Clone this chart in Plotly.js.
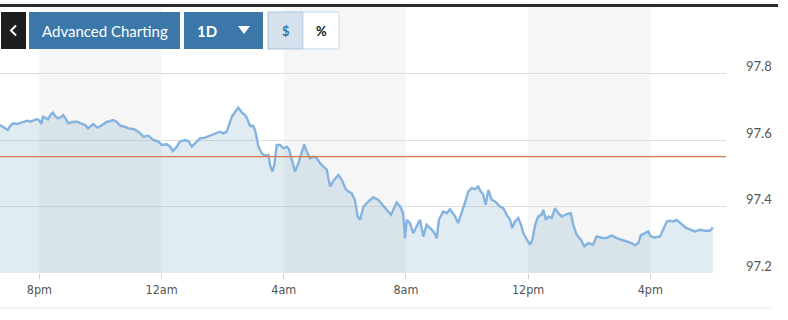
<!DOCTYPE html>
<html>
<head>
<meta charset="utf-8">
<script src="https://cdn.plot.ly/plotly-3.0.1.min.js"></script>
<style>html,body{margin:0;padding:0;background:#fff;}#chart{width:788px;height:320px;}</style>
</head>
<body>
<div id="chart"></div>
<script>
// time in hours (20 = 8pm, 24 = 12am, ... 40 = 4pm next day)
const times = [18.71,18.81,18.88,18.97,19.04,19.14,19.27,19.37,19.50,19.60,19.70,19.79,19.92,20.02,20.06,20.12,20.22,20.28,20.38,20.45,20.51,20.61,20.71,20.78,20.87,20.94,21.07,21.23,21.36,21.50,21.59,21.69,21.76,21.86,21.92,22.05,22.22,22.31,22.41,22.54,22.64,22.80,22.91,23.08,23.24,23.40,23.57,23.73,23.89,24.01,24.17,24.28,24.37,24.50,24.60,24.77,24.88,24.99,25.10,25.26,25.42,25.59,25.75,25.91,26.02,26.13,26.19,26.30,26.41,26.51,26.62,26.73,26.79,26.90,27.00,27.06,27.12,27.17,27.28,27.39,27.50,27.55,27.63,27.69,27.77,27.88,27.99,28.10,28.17,28.26,28.37,28.48,28.59,28.67,28.75,28.86,28.97,29.08,29.19,29.30,29.41,29.46,29.52,29.62,29.79,29.90,30.01,30.11,30.22,30.33,30.42,30.50,30.61,30.77,30.93,31.10,31.26,31.37,31.51,31.70,31.81,31.91,31.97,32.03,32.13,32.24,32.35,32.46,32.57,32.68,32.79,32.90,33.01,33.08,33.22,33.34,33.44,33.61,33.71,33.83,33.93,34.04,34.15,34.26,34.37,34.42,34.53,34.61,34.70,34.81,34.92,35.08,35.19,35.30,35.41,35.48,35.57,35.68,35.77,35.84,35.95,36.06,36.14,36.23,36.33,36.44,36.50,36.58,36.66,36.77,36.88,36.99,37.10,37.26,37.40,37.48,37.59,37.73,37.84,37.97,38.13,38.24,38.41,38.57,38.74,38.90,39.06,39.23,39.39,39.50,39.61,39.69,39.83,39.93,40.02,40.15,40.32,40.43,40.54,40.64,40.75,40.86,40.97,41.08,41.19,41.35,41.46,41.63,41.79,41.95,42.05];
const prices = [97.645,97.639,97.634,97.630,97.642,97.650,97.648,97.652,97.655,97.658,97.655,97.658,97.663,97.657,97.648,97.670,97.666,97.662,97.678,97.682,97.672,97.665,97.669,97.675,97.663,97.650,97.654,97.655,97.650,97.645,97.635,97.642,97.648,97.640,97.637,97.645,97.655,97.657,97.660,97.654,97.643,97.640,97.635,97.633,97.625,97.610,97.613,97.600,97.595,97.585,97.587,97.580,97.567,97.580,97.595,97.600,97.597,97.580,97.590,97.605,97.607,97.613,97.617,97.625,97.620,97.625,97.640,97.670,97.685,97.697,97.684,97.675,97.667,97.642,97.643,97.630,97.605,97.580,97.560,97.553,97.555,97.525,97.505,97.525,97.585,97.585,97.575,97.580,97.573,97.545,97.505,97.530,97.565,97.587,97.565,97.545,97.550,97.545,97.530,97.520,97.510,97.485,97.460,97.477,97.495,97.480,97.455,97.445,97.440,97.420,97.370,97.360,97.400,97.415,97.428,97.420,97.400,97.390,97.375,97.412,97.400,97.380,97.305,97.360,97.350,97.320,97.340,97.360,97.310,97.345,97.335,97.325,97.305,97.360,97.385,97.380,97.392,97.370,97.350,97.380,97.410,97.445,97.455,97.452,97.460,97.450,97.435,97.405,97.450,97.420,97.415,97.400,97.395,97.375,97.360,97.335,97.355,97.365,97.345,97.320,97.300,97.285,97.300,97.345,97.370,97.375,97.390,97.360,97.370,97.365,97.395,97.380,97.370,97.377,97.380,97.345,97.315,97.300,97.280,97.290,97.285,97.310,97.306,97.305,97.313,97.305,97.300,97.295,97.290,97.283,97.290,97.313,97.320,97.325,97.310,97.307,97.310,97.335,97.355,97.357,97.355,97.360,97.350,97.343,97.335,97.330,97.325,97.330,97.327,97.327,97.337];
const refLevel = 97.55;
const tickVals = [20,24,28,32,36,40];
const tickLabels = ['8pm','12am','4am','8am','12pm','4pm'];
const yTicks = [97.2,97.4,97.6,97.8];
const shadedBands = [[20,24],[28,32],[36,40]];
const buttonLabels = ['<','Advanced Charting','1D','$','%'];

// layout geometry (pixels)
const PW = 726, PT = 7, PB = 273, PH = PB - PT;
const px = x => x / PW;
const py = y => (PB - y) / PH;

const shapes = [];
shadedBands.forEach(b => shapes.push({type:'rect', xref:'x', yref:'paper', x0:b[0], x1:b[1], y0:0, y1:1, fillcolor:'#f6f6f6', line:{width:0}, layer:'below'}));
shapes.push({type:'line', xref:'paper', yref:'y', x0:0, x1:1, y0:refLevel, y1:refLevel, line:{color:'#d9784c', width:1.4}, layer:'above'});
// top dark rule
shapes.push({type:'line', xref:'paper', yref:'paper', x0:px(0), x1:px(778), y0:py(5.5), y1:py(5.5), line:{color:'#2b2b2b', width:3}, layer:'above'});
// bottom faint rule
shapes.push({type:'line', xref:'paper', yref:'paper', x0:0, x1:px(772), y0:py(308), y1:py(308), line:{color:'#ececec', width:1}, layer:'above'});
// buttons
function box(x0,x1,y0,y1,fill,border){shapes.push({type:'rect', xref:'paper', yref:'paper', x0:px(x0), x1:px(x1), y0:py(y1), y1:py(y0), fillcolor:fill, line:{color:border||fill, width:border?1:0}, layer:'above'});}
box(1,26,12,49,'#1e1e1e');
box(29,180,12,49,'#3b77a8');
box(184,263,12,49,'#3b77a8');
box(268,303,12,49,'#d5e2ed','#a8c3dc');
box(303,339,12,49,'#ffffff','#c6d9ea');
// dropdown triangle
shapes.push({type:'path', xref:'paper', yref:'paper', path:`M ${px(238)} ${py(26)} L ${px(250)} ${py(26)} L ${px(244)} ${py(34)} Z`, fillcolor:'#ffffff', line:{width:0}, layer:'above'});
// back chevron
shapes.push({type:'path', xref:'paper', yref:'paper', path:`M ${px(16)} ${py(25.5)} L ${px(11)} ${py(30.5)} L ${px(16)} ${py(35.5)}`, line:{color:'#ffffff', width:2}, layer:'above'});

const ann = [];
function txt(t,x,y,size,color,weight){ann.push({text:t, xref:'paper', yref:'paper', x:px(x), y:py(y), xanchor:'center', yanchor:'middle', showarrow:false, font:{family:'Lato, "Open Sans", sans-serif', size:size, color:color, weight:weight||'normal'}});}
txt(buttonLabels[1],105,30.5,15,'#ffffff');
txt(buttonLabels[2],207,30.5,15,'#ffffff','bold');
txt(buttonLabels[3],285.5,30.5,13,'#3b77a8','bold');
txt(buttonLabels[4],321,30.5,13,'#111111','bold');

const trace = {x:times, y:prices, type:'scatter', mode:'lines', line:{color:'#84b3e1', width:2.4}, fill:'tozeroy', fillcolor:'rgba(105,155,190,0.2)', hoverinfo:'skip'};

const layout = {
  width:788, height:320,
  margin:{l:0, r:788-PW, t:PT, b:320-PB},
  paper_bgcolor:'#ffffff', plot_bgcolor:'#ffffff',
  showlegend:false,
  xaxis:{range:[18.71, 42.48], tickvals:tickVals, ticktext:tickLabels, showgrid:false, zeroline:false, showline:false, ticks:'outside', ticklen:5, tickcolor:'#cfcfcf', tickfont:{family:'"DejaVu Sans Condensed", "Liberation Sans Narrow", sans-serif', size:12.5, color:'#555'}, fixedrange:true},
  yaxis:{range:[97.2, 98.0], side:'right', tickvals:yTicks, ticktext:yTicks.map(v=>v.toFixed(1)), showgrid:true, gridcolor:'#dedede', gridwidth:1, zeroline:false, ticks:'', ticklabelstandoff:19, ticklabelshift:-7, tickfont:{family:'Lato, "Open Sans", sans-serif', size:13, color:'#555'}, fixedrange:true},
  shapes:shapes, annotations:ann, hovermode:false
};
Plotly.newPlot('chart',[trace],layout,{displayModeBar:false, staticPlot:true});
</script>
</body>
</html>
